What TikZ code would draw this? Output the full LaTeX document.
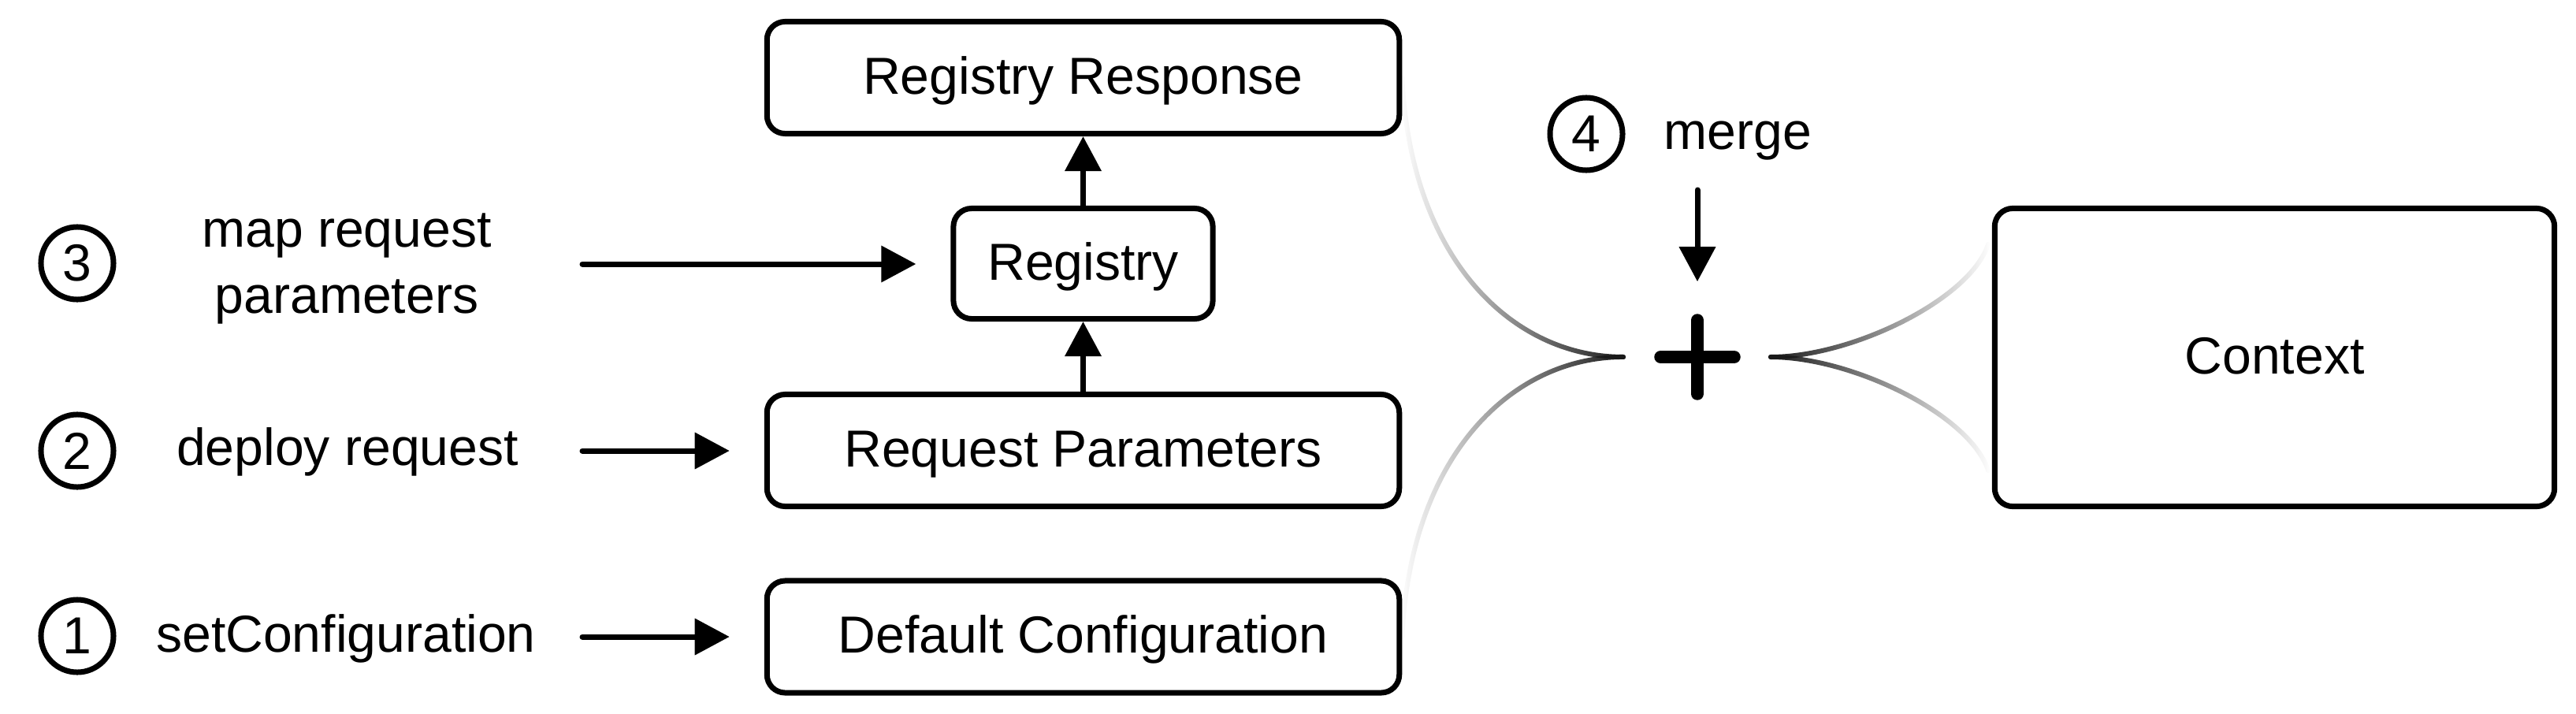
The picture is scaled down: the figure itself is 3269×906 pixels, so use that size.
\documentclass[tikz,border=0pt]{standalone}
\usepackage{fontspec}
\setmainfont{Liberation Sans}
\usetikzlibrary{arrows.meta,calc,fadings}
\tikzfading[name=fadeL, left color=transparent!100, right color=transparent!0]
\tikzfading[name=fadeR, left color=transparent!0, right color=transparent!100]
\newcommand{\lblfont}{\fontsize{18.8pt}{23.8pt}\selectfont}
\begin{document}
\begin{tikzpicture}[x=0.01cm,y=-0.01cm,
  lbl/.style={font=\lblfont, inner sep=0pt},
  box/.style={draw, line width=0.07cm, rounded corners=0.23cm, inner sep=0pt,
    font=\lblfont, text height=0.41cm, text depth=0pt},
  num/.style={draw, circle, line width=0.07cm, minimum size=0.92cm, inner sep=0pt, font=\lblfont},
  arr/.style={line width=0.07cm, line cap=round, -{Triangle[length=0.44cm,width=0.45cm]}},
  fadecurve/.style={line width=0.06cm, line cap=round, draw=black!90}]
\fill[white] (0,0) rectangle (3269,906);
\useasboundingbox (0,0) rectangle (3269,906);

% boxes
\node[box, minimum width=8.02cm, minimum height=1.42cm] (rr) at (1374.5,98.5) {Registry Response};
\node[box, minimum width=3.29cm, minimum height=1.40cm] (reg) at (1374.5,334.5) {Registry};
\node[box, minimum width=8.02cm, minimum height=1.42cm] (rp) at (1374.5,571.5) {Request Parameters};
\node[box, minimum width=8.02cm, minimum height=1.42cm] (dc) at (1374.5,808) {Default Configuration};
\node[box, minimum width=7.10cm, minimum height=3.78cm] (ctx) at (2886.5,453.5) {Context};

% step circles and labels
\node[num] (n3) at (98,334) {3};
\node[num] (n2) at (98,572) {2};
\node[num] (n1) at (98,807) {1};
\node[num] (n4) at (2013,170) {4};
\node[lbl, align=center] (l3) at (440,341) {map request\\parameters};
\node[lbl, anchor=base] (l2) at (441,590) {deploy request};
\node[lbl, anchor=base] (l1) at (439,827) {setConfiguration};
\node[lbl, anchor=base west] (l4) at (2111,189) {merge};

% plus
\node[minimum size=1.08cm, inner sep=0pt] (plus) at (2154,453) {};
\draw[line width=0.16cm, line cap=round] ($(plus.west)+(8,0)$) -- ($(plus.east)+(-8,0)$);
\draw[line width=0.16cm, line cap=round] ($(plus.north)+(0,8)$) -- ($(plus.south)+(0,-8)$);

% arrows
\coordinate (a3) at (739,335);
\coordinate (a2) at (739,572);
\coordinate (a1) at (739,808);
\draw[arr, shorten >=0.44cm] (a3) -- (a3 -| reg.west);
\draw[arr, shorten >=0.44cm] (a2) -- (a2 -| rp.west);
\draw[arr, shorten >=0.44cm] (a1) -- (a1 -| dc.west);
\draw[arr] (rp.north) -- (reg.south);
\draw[arr] (reg.north) -- (rr.south);
\coordinate (mtop) at (2154,241);
\draw[arr, shorten >=0.41cm] (mtop) -- (plus.north);

% merging curves
\coordinate (pl) at (2060,453);
\coordinate (pr) at (2247,453);
\coordinate (cu) at (2523,310);
\coordinate (cd) at (2523,597);
\draw[fadecurve, path fading=fadeL] (rr.east) .. controls (1790,330) and (1920,453) .. (pl);
\draw[fadecurve, path fading=fadeL] (dc.east) .. controls (1790,576) and (1920,453) .. (pl);
\draw[fadecurve, path fading=fadeR] (pr) .. controls (2350,453) and (2500,380) .. (cu);
\draw[fadecurve, path fading=fadeR] (pr) .. controls (2350,453) and (2500,526) .. (cd);
\end{tikzpicture}
\end{document}
